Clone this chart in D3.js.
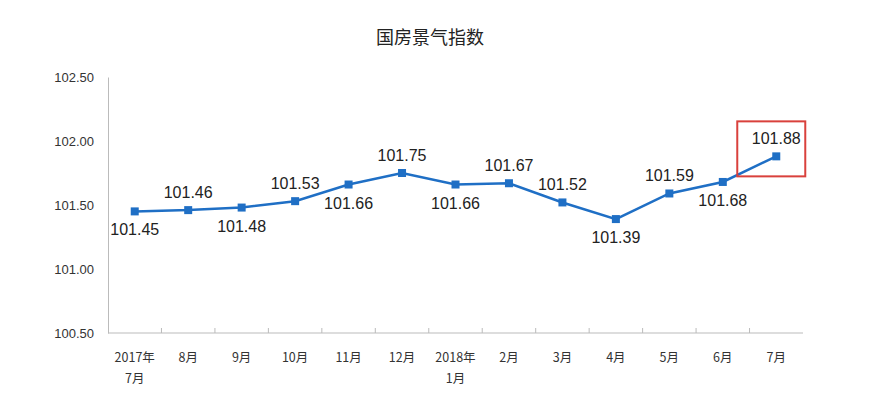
<!DOCTYPE html><html><head><meta charset="utf-8"><script src="https://cdn.jsdelivr.net/npm/d3@7"></script>
<style>body{margin:0;background:#fff}</style></head><body><svg id="c" width="871" height="418"></svg><script>
const categories=["2017年\n7月","8月","9月","10月","11月","12月","2018年\n1月","2月","3月","4月","5月","6月","7月"];
const values=[101.45,101.46,101.48,101.53,101.66,101.75,101.66,101.67,101.52,101.39,101.59,101.68,101.88];
const labelPos=["b","a","b","a","b","a","b","a","a","b","a","b","a"];
const yTicks=[100.5,101.0,101.5,102.0,102.5];
const svg=d3.select("#c");
const font="'Noto Sans CJK SC','Liberation Sans',sans-serif";
const x=d3.scaleBand().domain(categories).range([108,803]);
const y=d3.scaleLinear().domain([100.5,102.5]).range([333,77]);
svg.append("text").attr("x",430).attr("y",44).attr("text-anchor","middle").attr("font-family",font).attr("font-size",18).attr("fill","#222").text("国房景气指数");
// y axis
const ya=svg.append("g").attr("transform","translate(108,0)").call(d3.axisLeft(y).tickValues(yTicks).tickFormat(d3.format(".2f")).tickSize(0).tickPadding(14));
ya.select(".domain").attr("stroke","#bbb");
ya.selectAll("text").attr("font-family","'Liberation Sans',sans-serif").attr("font-size",13).attr("fill","#333");
// x axis
svg.append("line").attr("x1",108).attr("x2",803).attr("y1",333).attr("y2",333).attr("stroke","#bbb");
categories.forEach((c,i)=>{if(i>0)svg.append("line").attr("x1",x(c)).attr("x2",x(c)).attr("y1",333).attr("y2",328).attr("stroke","#bbb");});
categories.forEach(c=>{const lines=c.split("\n");lines.forEach((l,j)=>svg.append("text").attr("x",x(c)+x.bandwidth()/2).attr("y",362+j*21).attr("text-anchor","middle").attr("font-family",font).attr("font-size",12.5).attr("fill","#333").text(l));});
const cx=c=>x(c)+x.bandwidth()/2;
svg.append("path").datum(values).attr("fill","none").attr("stroke","#1f6fc5").attr("stroke-width",2.5)
 .attr("d",d3.line().x((d,i)=>cx(categories[i])).y(d=>y(d)));
svg.selectAll("rect.m").data(values).join("rect").attr("x",(d,i)=>cx(categories[i])-4).attr("y",d=>y(d)-4).attr("width",8).attr("height",8).attr("fill","#1f6fc5");
svg.selectAll("text.v").data(values).join("text").attr("x",(d,i)=>cx(categories[i])).attr("y",(d,i)=>y(d)+(labelPos[i]=="a"?-12:24))
 .attr("text-anchor","middle").attr("font-family","'Liberation Sans',sans-serif").attr("font-size",16).attr("fill","#222").text(d=>d.toFixed(2));
const last=categories[categories.length-1];
svg.append("rect").attr("x",cx(last)-39).attr("y",y(values[12])-35).attr("width",68).attr("height",55).attr("fill","none").attr("stroke","#d9413c").attr("stroke-width",2);
</script></body></html>
